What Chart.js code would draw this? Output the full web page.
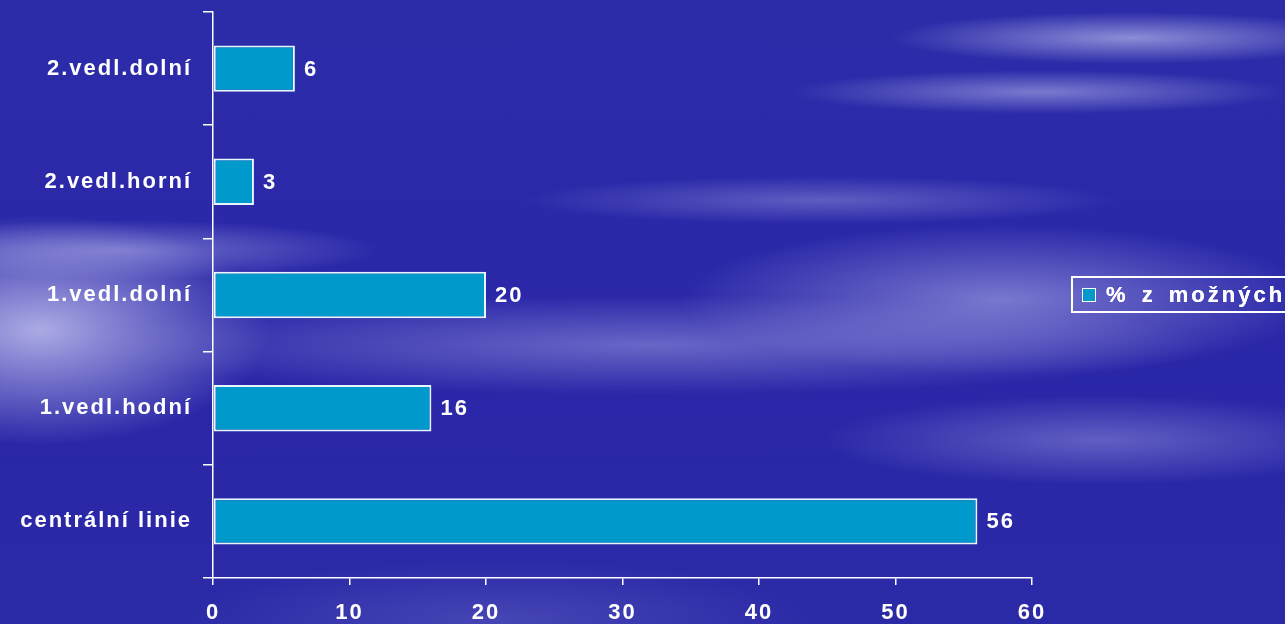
<!DOCTYPE html>
<html>
<head>
<meta charset="utf-8">
<script src="https://cdn.jsdelivr.net/npm/chart.js@4"></script>
<style>
  html, body {
    margin: 0;
    padding: 0;
    width: 1285px;
    height: 624px;
    overflow: hidden;
  }
  body {
    position: relative;
    background:
      radial-gradient(ellipse 240px 26px at 1130px 38px, rgba(205,205,245,0.6), rgba(205,205,245,0) 100%),
      radial-gradient(ellipse 250px 22px at 1040px 92px, rgba(200,200,245,0.5), rgba(200,200,245,0) 100%),
      radial-gradient(ellipse 300px 24px at 820px 200px, rgba(190,190,240,0.35), rgba(190,190,240,0) 100%),
      radial-gradient(ellipse 320px 75px at 1000px 300px, rgba(200,200,245,0.5), rgba(200,200,245,0) 100%),
      radial-gradient(ellipse 560px 50px at 650px 345px, rgba(180,180,235,0.45), rgba(180,180,235,0) 100%),
      radial-gradient(ellipse 260px 30px at 120px 250px, rgba(200,200,245,0.45), rgba(200,200,245,0) 100%),
      radial-gradient(ellipse 230px 115px at 40px 330px, rgba(215,215,248,0.75), rgba(215,215,248,0) 100%),
      radial-gradient(ellipse 280px 45px at 1100px 440px, rgba(180,180,235,0.4), rgba(180,180,235,0) 100%),
      radial-gradient(ellipse 320px 60px at 500px 620px, rgba(120,120,210,0.35), rgba(120,120,210,0) 100%),
      linear-gradient(#2c2ca9, #2a26a8 60%, #2b2aa6);
  }
  #wrap {
    position: absolute;
    left: 0;
    top: 0;
    width: 1285px;
    height: 624px;
  }
  #legend {
    position: absolute;
    left: 1071px;
    top: 276px;
    width: 240px;
    height: 33px;
    border: 2px solid #ffffff;
    font: bold 22px "Liberation Sans", Arial, sans-serif;
    letter-spacing: 3px;
    word-spacing: 4px;
    color: #ffffff;
    white-space: nowrap;
    line-height: 33px;
    text-shadow: 0 0 0.6px #ffffff;
  }
  #legend .swatch {
    display: inline-block;
    width: 12px;
    height: 12px;
    background: #0099cc;
    border: 1.5px solid #ffffff;
    margin: 0 10px 0 9px;
    vertical-align: 0px;
  }
</style>
</head>
<body>
<div id="wrap"><canvas id="chart" width="1285" height="624"></canvas></div>
<div id="legend"><span class="swatch"></span>% z možných</div>
<script>
// chart data
const categories = ['2.vedl.dolní', '2.vedl.horní', '1.vedl.dolní', '1.vedl.hodní', 'centrální linie'];
const values = [6, 3, 20, 16, 56];
const seriesName = '% z možných';
const xTicks = [0, 10, 20, 30, 40, 50, 60];

const labelFont = { family: '"Liberation Sans", Arial, sans-serif', size: 22, weight: 'bold' };

// value labels at the end of each bar
const valueLabels = {
  id: 'valueLabels',
  afterDatasetsDraw(chart) {
    const ctx = chart.ctx;
    const meta = chart.getDatasetMeta(0);
    ctx.save();
    ctx.letterSpacing = '2px';
    ctx.font = 'bold 22px "Liberation Sans", Arial, sans-serif';
    ctx.fillStyle = '#ffffff';
    ctx.textAlign = 'left';
    ctx.textBaseline = 'middle';
    meta.data.forEach((bar, i) => {
      ctx.fillText(String(values[i]), bar.x + 9, bar.y + 1);
    });
    ctx.restore();
  }
};

// a little letter spacing for the axis labels
const spacing = {
  id: 'spacing',
  beforeInit(chart) { chart.ctx.letterSpacing = '2px'; },
  beforeDraw(chart) { chart.ctx.letterSpacing = '2px'; }
};

new Chart(document.getElementById('chart'), {
  type: 'bar',
  data: {
    labels: categories,
    datasets: [{
      label: seriesName,
      data: values,
      backgroundColor: '#0099cc',
      borderColor: '#e6f6ff',
      borderWidth: 2,
      borderSkipped: false,
      barPercentage: 0.41,
      categoryPercentage: 1
    }]
  },
  options: {
    indexAxis: 'y',
    responsive: false,
    animation: false,
    layout: { padding: { top: 12, right: 253, left: 0, bottom: 0 } },
    plugins: {
      legend: { display: false },
      tooltip: { enabled: false }
    },
    scales: {
      x: {
        min: 0,
        max: 60,
        afterBuildTicks(scale) { scale.ticks = xTicks.map(v => ({ value: v })); },
        afterFit(scale) { scale.height = 46; },
        grid: {
          drawOnChartArea: false,
          drawTicks: true,
          tickLength: 7,
          color: '#ffffff',
          lineWidth: 1.5
        },
        border: { color: '#ffffff', width: 1.5 },
        ticks: {
          color: '#ffffff',
          font: labelFont,
          padding: 15
        }
      },
      y: {
        afterFit(scale) {
          scale.width = 213;
          scale.paddingTop = 0;
          scale.paddingBottom = 0;
        },
        grid: {
          offset: true,
          drawOnChartArea: false,
          drawTicks: true,
          tickLength: 10,
          color: '#ffffff',
          lineWidth: 1.5
        },
        border: { color: '#ffffff', width: 1.5 },
        ticks: {
          color: '#ffffff',
          font: labelFont,
          padding: 11
        }
      }
    }
  },
  plugins: [spacing, valueLabels]
});
</script>
</body>
</html>
